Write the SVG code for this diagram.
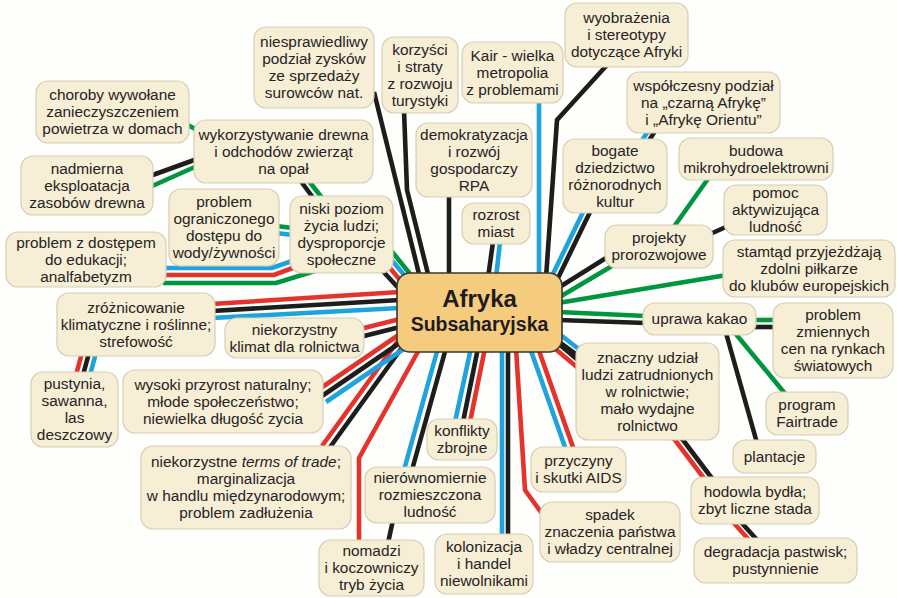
<svg xmlns="http://www.w3.org/2000/svg" width="897" height="598" viewBox="0 0 897 598">
<style>
.bg{fill:#fefefc}
.c line,.c polyline{fill:none;stroke-width:4.6;stroke-linejoin:miter}
.k{stroke:#1d1d1b}
.g{stroke:#00953f}
.b{stroke:#1fa3dc}
.r{stroke:#e4332b}
.n rect{fill:#f6eed5;stroke:#d6ceb4;stroke-width:1.2}
.n text{font-family:"Liberation Sans",Arial,sans-serif;font-size:15.4px;fill:#262324;text-anchor:middle}
#hub rect{fill:#f5cb7e;stroke:#3a3632;stroke-width:1.6}
#hub text{font-family:"Liberation Sans",Arial,sans-serif;font-weight:bold;fill:#1f1c1d;text-anchor:middle}
</style>
<rect class="bg" x="0" y="0" width="897" height="598"/>
<g id="connectors" class="c">
<line class="k" x1="374" y1="92" x2="420" y2="278"/>
<polyline class="k" points="404,110 407,190 429,278"/>
<line class="k" x1="449" y1="195" x2="449" y2="278"/>
<line class="k" x1="493" y1="242" x2="488" y2="278"/>
<line class="b" x1="500" y1="242" x2="496" y2="278"/>
<line class="b" x1="539" y1="100" x2="539" y2="278"/>
<polyline class="k" points="607,65 557,120 546,278"/>
<line class="b" x1="650" y1="128" x2="636" y2="150"/>
<line class="k" x1="657" y1="128" x2="643" y2="150"/>
<line class="b" x1="585" y1="208" x2="551" y2="278"/>
<line class="k" x1="592" y1="208" x2="558" y2="278"/>
<line class="k" x1="606" y1="258" x2="558" y2="288"/>
<line class="g" x1="612" y1="266" x2="558" y2="298"/>
<line class="g" x1="673" y1="228" x2="710" y2="176"/>
<line class="k" x1="708" y1="235" x2="728" y2="226"/>
<line class="g" x1="558" y1="303" x2="727" y2="275"/>
<line class="g" x1="558" y1="312" x2="646" y2="316"/>
<line class="k" x1="558" y1="320" x2="646" y2="323"/>
<line class="g" x1="753" y1="320" x2="776" y2="320"/>
<line class="k" x1="753" y1="327" x2="776" y2="327"/>
<line class="g" x1="735" y1="333" x2="787" y2="396"/>
<line class="k" x1="726" y1="333" x2="757" y2="443"/>
<line class="b" x1="558" y1="333" x2="580" y2="350"/>
<line class="k" x1="558" y1="341" x2="580" y2="357"/>
<polyline class="r" points="553,347 590,378 675,440 706,481"/>
<polyline class="k" points="560,345 597,376 683,440 714,481"/>
<line class="r" x1="732" y1="521" x2="750" y2="541"/>
<line class="k" x1="740" y1="521" x2="758" y2="541"/>
<polyline class="r" points="516,348 525,490 543,515"/>
<line class="b" x1="530" y1="348" x2="566" y2="450"/>
<line class="r" x1="538" y1="348" x2="574" y2="450"/>
<line class="b" x1="502" y1="348" x2="502" y2="537"/>
<line class="k" x1="508" y1="348" x2="508" y2="537"/>
<line class="b" x1="471" y1="348" x2="455" y2="422"/>
<line class="k" x1="478" y1="348" x2="463" y2="422"/>
<line class="r" x1="485" y1="348" x2="470" y2="422"/>
<line class="b" x1="438" y1="348" x2="404" y2="470"/>
<line class="k" x1="446" y1="348" x2="412" y2="470"/>
<line class="k" x1="393" y1="520" x2="388" y2="543"/>
<polyline class="r" points="420,348 359,458 359,543"/>
<line class="r" x1="322" y1="446" x2="400" y2="338"/>
<line class="k" x1="328" y1="450" x2="406" y2="342"/>
<line class="r" x1="318" y1="390" x2="400" y2="334"/>
<line class="k" x1="322" y1="396" x2="404" y2="340"/>
<line class="b" x1="326" y1="402" x2="408" y2="346"/>
<line class="r" x1="360" y1="329" x2="400" y2="319"/>
<line class="k" x1="360" y1="337" x2="400" y2="327"/>
<line class="r" x1="212" y1="304" x2="400" y2="292"/>
<line class="k" x1="212" y1="311" x2="400" y2="300"/>
<line class="b" x1="212" y1="318" x2="400" y2="308"/>
<line class="r" x1="82" y1="353" x2="76" y2="375"/>
<line class="k" x1="89" y1="353" x2="83" y2="375"/>
<line class="b" x1="96" y1="353" x2="90" y2="375"/>
<line class="g" x1="385" y1="243" x2="415" y2="280"/>
<line class="b" x1="385" y1="252" x2="410" y2="282"/>
<line class="r" x1="385" y1="262" x2="405" y2="286"/>
<line class="k" x1="380" y1="268" x2="402" y2="292"/>
<line class="k" x1="300" y1="180" x2="314" y2="199"/>
<line class="g" x1="308" y1="180" x2="323" y2="199"/>
<line class="g" x1="186" y1="124" x2="197" y2="130"/>
<line class="k" x1="197" y1="159" x2="150" y2="176"/>
<line class="g" x1="197" y1="166" x2="150" y2="187"/>
<line class="g" x1="276" y1="226" x2="293" y2="228"/>
<line class="b" x1="276" y1="233" x2="293" y2="235"/>
<polyline class="b" points="163,268 272,268 295,260"/>
<polyline class="r" points="163,275 274,275 298,266"/>
<polyline class="g" points="163,283 276,283 315,271"/>
</g>
<g id="hub"><rect x="397" y="273" width="165" height="79" rx="13"/><text x="479.5" y="307" font-size="24">Afryka</text><text x="479.5" y="331" font-size="19.5">Subsaharyjska</text></g>
<g id="n1" class="n"><rect x="254" y="27" width="120" height="81" rx="12"/><text x="314" y="47">niesprawiedliwy</text><text x="314" y="64">podział zysków</text><text x="314" y="81">ze sprzedaży</text><text x="314" y="98">surowców nat.</text></g>
<g id="n2" class="n"><rect x="382" y="37" width="76" height="76" rx="12"/><text x="420" y="54.5">korzyści</text><text x="420" y="71.5">i straty</text><text x="420" y="88.5">z rozwoju</text><text x="420" y="105.5">turystyki</text></g>
<g id="n3" class="n"><rect x="462" y="42" width="101" height="61" rx="12"/><text x="512.5" y="60.5">Kair - wielka</text><text x="512.5" y="77.5">metropolia</text><text x="512.5" y="94.5">z problemami</text></g>
<g id="n4" class="n"><rect x="565" y="3" width="123" height="64" rx="12"/><text x="626.5" y="23">wyobrażenia</text><text x="626.5" y="40">i stereotypy</text><text x="626.5" y="57">dotyczące Afryki</text></g>
<g id="n5" class="n"><rect x="627" y="72" width="153" height="61" rx="12"/><text x="703.5" y="90.5">współczesny podział</text><text x="703.5" y="107.5">na „czarną Afrykę”</text><text x="703.5" y="124.5">i „Afrykę Orientu”</text></g>
<g id="n6" class="n"><rect x="416" y="123" width="116" height="74" rx="12"/><text x="474" y="139.5">demokratyzacja</text><text x="474" y="156.5">i rozwój</text><text x="474" y="173.5">gospodarczy</text><text x="474" y="190.5">RPA</text></g>
<g id="n7" class="n"><rect x="563" y="139" width="104" height="74" rx="12"/><text x="615" y="155.5">bogate</text><text x="615" y="172.5">dziedzictwo</text><text x="615" y="189.5">różnorodnych</text><text x="615" y="206.5">kultur</text></g>
<g id="n8" class="n"><rect x="679" y="138" width="154" height="42" rx="12"/><text x="756" y="155.5">budowa</text><text x="756" y="172.5">mikrohydroelektrowni</text></g>
<g id="n9" class="n"><rect x="724" y="185" width="103" height="50" rx="12"/><text x="775.5" y="198">pomoc</text><text x="775.5" y="215">aktywizująca</text><text x="775.5" y="232">ludność</text></g>
<g id="n10" class="n"><rect x="605" y="225" width="108" height="43" rx="12"/><text x="659" y="243">projekty</text><text x="659" y="260">prorozwojowe</text></g>
<g id="n11" class="n"><rect x="723" y="240" width="172" height="57" rx="12"/><text x="809" y="256.5">stamtąd przyjeżdżają</text><text x="809" y="273.5">zdolni piłkarze</text><text x="809" y="290.5">do klubów europejskich</text></g>
<g id="n12" class="n"><rect x="643" y="303" width="113" height="32" rx="12"/><text x="699.5" y="324">uprawa kakao</text></g>
<g id="n13" class="n"><rect x="773" y="303" width="120" height="75" rx="12"/><text x="833" y="320">problem</text><text x="833" y="337">zmiennych</text><text x="833" y="354">cen na rynkach</text><text x="833" y="371">światowych</text></g>
<g id="n14" class="n"><rect x="576" y="343" width="143" height="97" rx="12"/><text x="647.5" y="362.5">znaczny udział</text><text x="647.5" y="379.5">ludzi zatrudnionych</text><text x="647.5" y="396.5">w rolnictwie;</text><text x="647.5" y="413.5">mało wydajne</text><text x="647.5" y="430.5">rolnictwo</text></g>
<g id="n15" class="n"><rect x="766" y="392" width="82" height="43" rx="12"/><text x="807" y="410">program</text><text x="807" y="427">Fairtrade</text></g>
<g id="n16" class="n"><rect x="733" y="440" width="83" height="33" rx="12"/><text x="774.5" y="461.5">plantacje</text></g>
<g id="n17" class="n"><rect x="691" y="477" width="128" height="47" rx="12"/><text x="755" y="497">hodowla bydła;</text><text x="755" y="514">zbyt liczne stada</text></g>
<g id="n18" class="n"><rect x="694" y="538" width="163" height="45" rx="12"/><text x="775.5" y="557">degradacja pastwisk;</text><text x="775.5" y="574">pustynnienie</text></g>
<g id="n19" class="n"><rect x="540" y="502" width="140" height="60" rx="12"/><text x="610" y="520">spadek</text><text x="610" y="537">znaczenia państwa</text><text x="610" y="554">i władzy centralnej</text></g>
<g id="n20" class="n"><rect x="531" y="447" width="95" height="45" rx="12"/><text x="578.5" y="466">przyczyny</text><text x="578.5" y="483">i skutki AIDS</text></g>
<g id="n21" class="n"><rect x="427" y="419" width="70" height="41" rx="12"/><text x="462" y="436">konflikty</text><text x="462" y="453">zbrojne</text></g>
<g id="n22" class="n"><rect x="365" y="467" width="130" height="56" rx="12"/><text x="430" y="483">nierównomiernie</text><text x="430" y="500">rozmieszczona</text><text x="430" y="517">ludność</text></g>
<g id="n23" class="n"><rect x="435" y="534" width="98" height="60" rx="12"/><text x="484" y="552">kolonizacja</text><text x="484" y="569">i handel</text><text x="484" y="586">niewolnikami</text></g>
<g id="n24" class="n"><rect x="319" y="540" width="105" height="56" rx="12"/><text x="371.5" y="556">nomadzi</text><text x="371.5" y="573">i koczowniczy</text><text x="371.5" y="590">tryb życia</text></g>
<g id="n25" class="n"><rect x="141" y="446" width="210" height="83" rx="12"/><text x="246" y="467">niekorzystne <tspan font-style="italic">terms of trade</tspan>;</text><text x="246" y="484">marginalizacja</text><text x="246" y="501">w handlu międzynarodowym;</text><text x="246" y="518">problem zadłużenia</text></g>
<g id="n26" class="n"><rect x="123" y="370" width="200" height="63" rx="12"/><text x="223" y="389.5">wysoki przyrost naturalny;</text><text x="223" y="406.5">młode społeczeństwo;</text><text x="223" y="423.5">niewielka długość zycia</text></g>
<g id="n27" class="n"><rect x="31" y="372" width="87" height="75" rx="12"/><text x="74.5" y="389">pustynia,</text><text x="74.5" y="406">sawanna,</text><text x="74.5" y="423">las</text><text x="74.5" y="440">deszczowy</text></g>
<g id="n28" class="n"><rect x="225" y="318" width="139" height="40" rx="12"/><text x="294.5" y="334.5">niekorzystny</text><text x="294.5" y="351.5">klimat dla rolnictwa</text></g>
<g id="n29" class="n"><rect x="57" y="293" width="158" height="63" rx="12"/><text x="136" y="312.5">zróżnicowanie</text><text x="136" y="329.5">klimatyczne i roślinne;</text><text x="136" y="346.5">strefowość</text></g>
<g id="n30" class="n"><rect x="6" y="232" width="160" height="55" rx="12"/><text x="86" y="247.5">problem z dostępem</text><text x="86" y="264.5">do edukacji;</text><text x="86" y="281.5">analfabetyzm</text></g>
<g id="n31" class="n"><rect x="169" y="189" width="110" height="77" rx="12"/><text x="224" y="207">problem</text><text x="224" y="224">ograniczonego</text><text x="224" y="241">dostępu do</text><text x="224" y="258">wody/żywności</text></g>
<g id="n32" class="n"><rect x="290" y="196" width="103" height="77" rx="12"/><text x="341.5" y="214">niski poziom</text><text x="341.5" y="231">życia ludzi;</text><text x="341.5" y="248">dysproporcje</text><text x="341.5" y="265">społeczne</text></g>
<g id="n33" class="n"><rect x="194" y="120" width="179" height="63" rx="12"/><text x="283.5" y="139.5">wykorzystywanie drewna</text><text x="283.5" y="156.5">i odchodów zwierząt</text><text x="283.5" y="173.5">na opał</text></g>
<g id="n34" class="n"><rect x="36" y="81" width="153" height="62" rx="12"/><text x="112.5" y="100">choroby wywołane</text><text x="112.5" y="117">zanieczyszczeniem</text><text x="112.5" y="134">powietrza w domach</text></g>
<g id="n35" class="n"><rect x="21" y="156" width="132" height="59" rx="12"/><text x="87" y="173.5">nadmierna</text><text x="87" y="190.5">eksploatacja</text><text x="87" y="207.5">zasobów drewna</text></g>
<g id="n36" class="n"><rect x="462" y="203" width="68" height="41" rx="12"/><text x="496" y="220">rozrost</text><text x="496" y="237">miast</text></g>
</svg>
